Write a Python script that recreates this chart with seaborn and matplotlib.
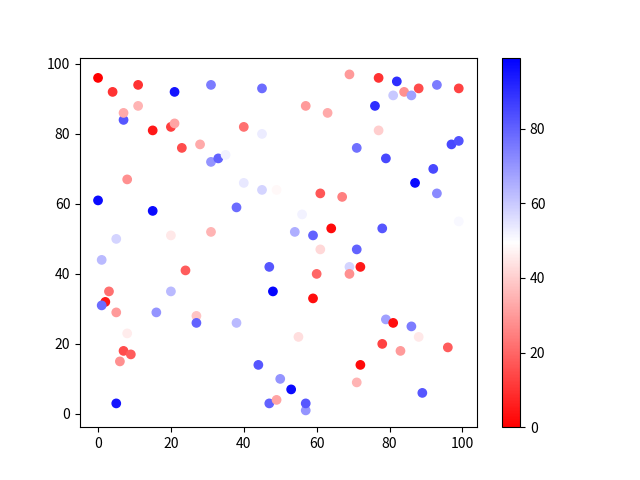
import pandas as pd
import seaborn as sns
import matplotlib.pyplot as plt
import matplotlib as mpl

plt.rcParams['font.family'] = ['Noto Sans CJK SC', 'DejaVu Sans']

x_vals = [0, 4, 11, 21, 31, 45, 7, 11, 7, 15, 20, 21, 40, 45, 23, 28, 31, 33, 35, 8,
          40, 45, 49, 0, 15, 38, 5, 20, 31, 69, 77, 82, 84, 88, 93, 99, 81, 86, 57, 63,
          76, 77, 71, 79, 97, 99, 92, 87, 93, 61, 67, 56, 99, 54, 59, 64, 78, 1, 24, 47,
          3, 20, 48, 2, 1, 5, 16, 27, 27, 38, 8, 7, 9, 6, 44, 50, 5, 47, 49, 61,
          71, 69, 72, 60, 69, 59, 79, 81, 86, 88, 55, 78, 83, 96, 72, 53, 57, 57, 71, 89]
y_vals = [96, 92, 94, 92, 94, 93, 84, 88, 86, 81, 82, 83, 82, 80, 76, 77, 72, 73, 74, 67,
          66, 64, 64, 61, 58, 59, 50, 51, 52, 97, 96, 95, 92, 93, 94, 93, 91, 91, 88, 86,
          88, 81, 76, 73, 77, 78, 70, 66, 63, 63, 62, 57, 55, 52, 51, 53, 53, 44, 41, 42,
          35, 35, 35, 32, 31, 29, 29, 28, 26, 26, 23, 18, 17, 15, 14, 10, 3, 3, 4, 47,
          47, 42, 42, 40, 40, 33, 27, 26, 25, 22, 22, 20, 18, 19, 14, 7, 1, 3, 9, 6]
c_vals = [0, 10, 10, 95, 75, 78, 82, 35, 33, 5, 12, 32, 22, 53, 15, 33, 70, 80, 52, 28,
          54, 58, 48, 97, 97, 78, 58, 45, 35, 30, 10, 90, 28, 15, 75, 13, 60, 68, 30, 33,
          90, 40, 77, 85, 85, 83, 85, 97, 72, 17, 25, 52, 51, 65, 80, 2, 82, 63, 18, 82,
          22, 63, 98, 5, 78, 30, 70, 38, 80, 63, 46, 15, 18, 28, 82, 70, 95, 80, 32, 42,
          80, 58, 5, 20, 28, 3, 68, 3, 75, 45, 43, 13, 30, 18, 2, 97, 70, 82, 35, 82]

df = pd.DataFrame({'x': x_vals, 'y': y_vals, 'c': c_vals})

fig, ax = plt.subplots(figsize=(6.4, 4.8), dpi=100)
norm = mpl.colors.Normalize(vmin=0, vmax=99)
sns.scatterplot(data=df, x='x', y='y', hue='c', palette='bwr_r', hue_norm=norm,
                s=36, linewidth=1.0, edgecolor='face', legend=False, ax=ax)
ax.set_xlabel('')
ax.set_ylabel('')

sm = mpl.cm.ScalarMappable(norm=norm, cmap='bwr_r')
fig.colorbar(sm, ax=ax)

plt.savefig('out.png')
